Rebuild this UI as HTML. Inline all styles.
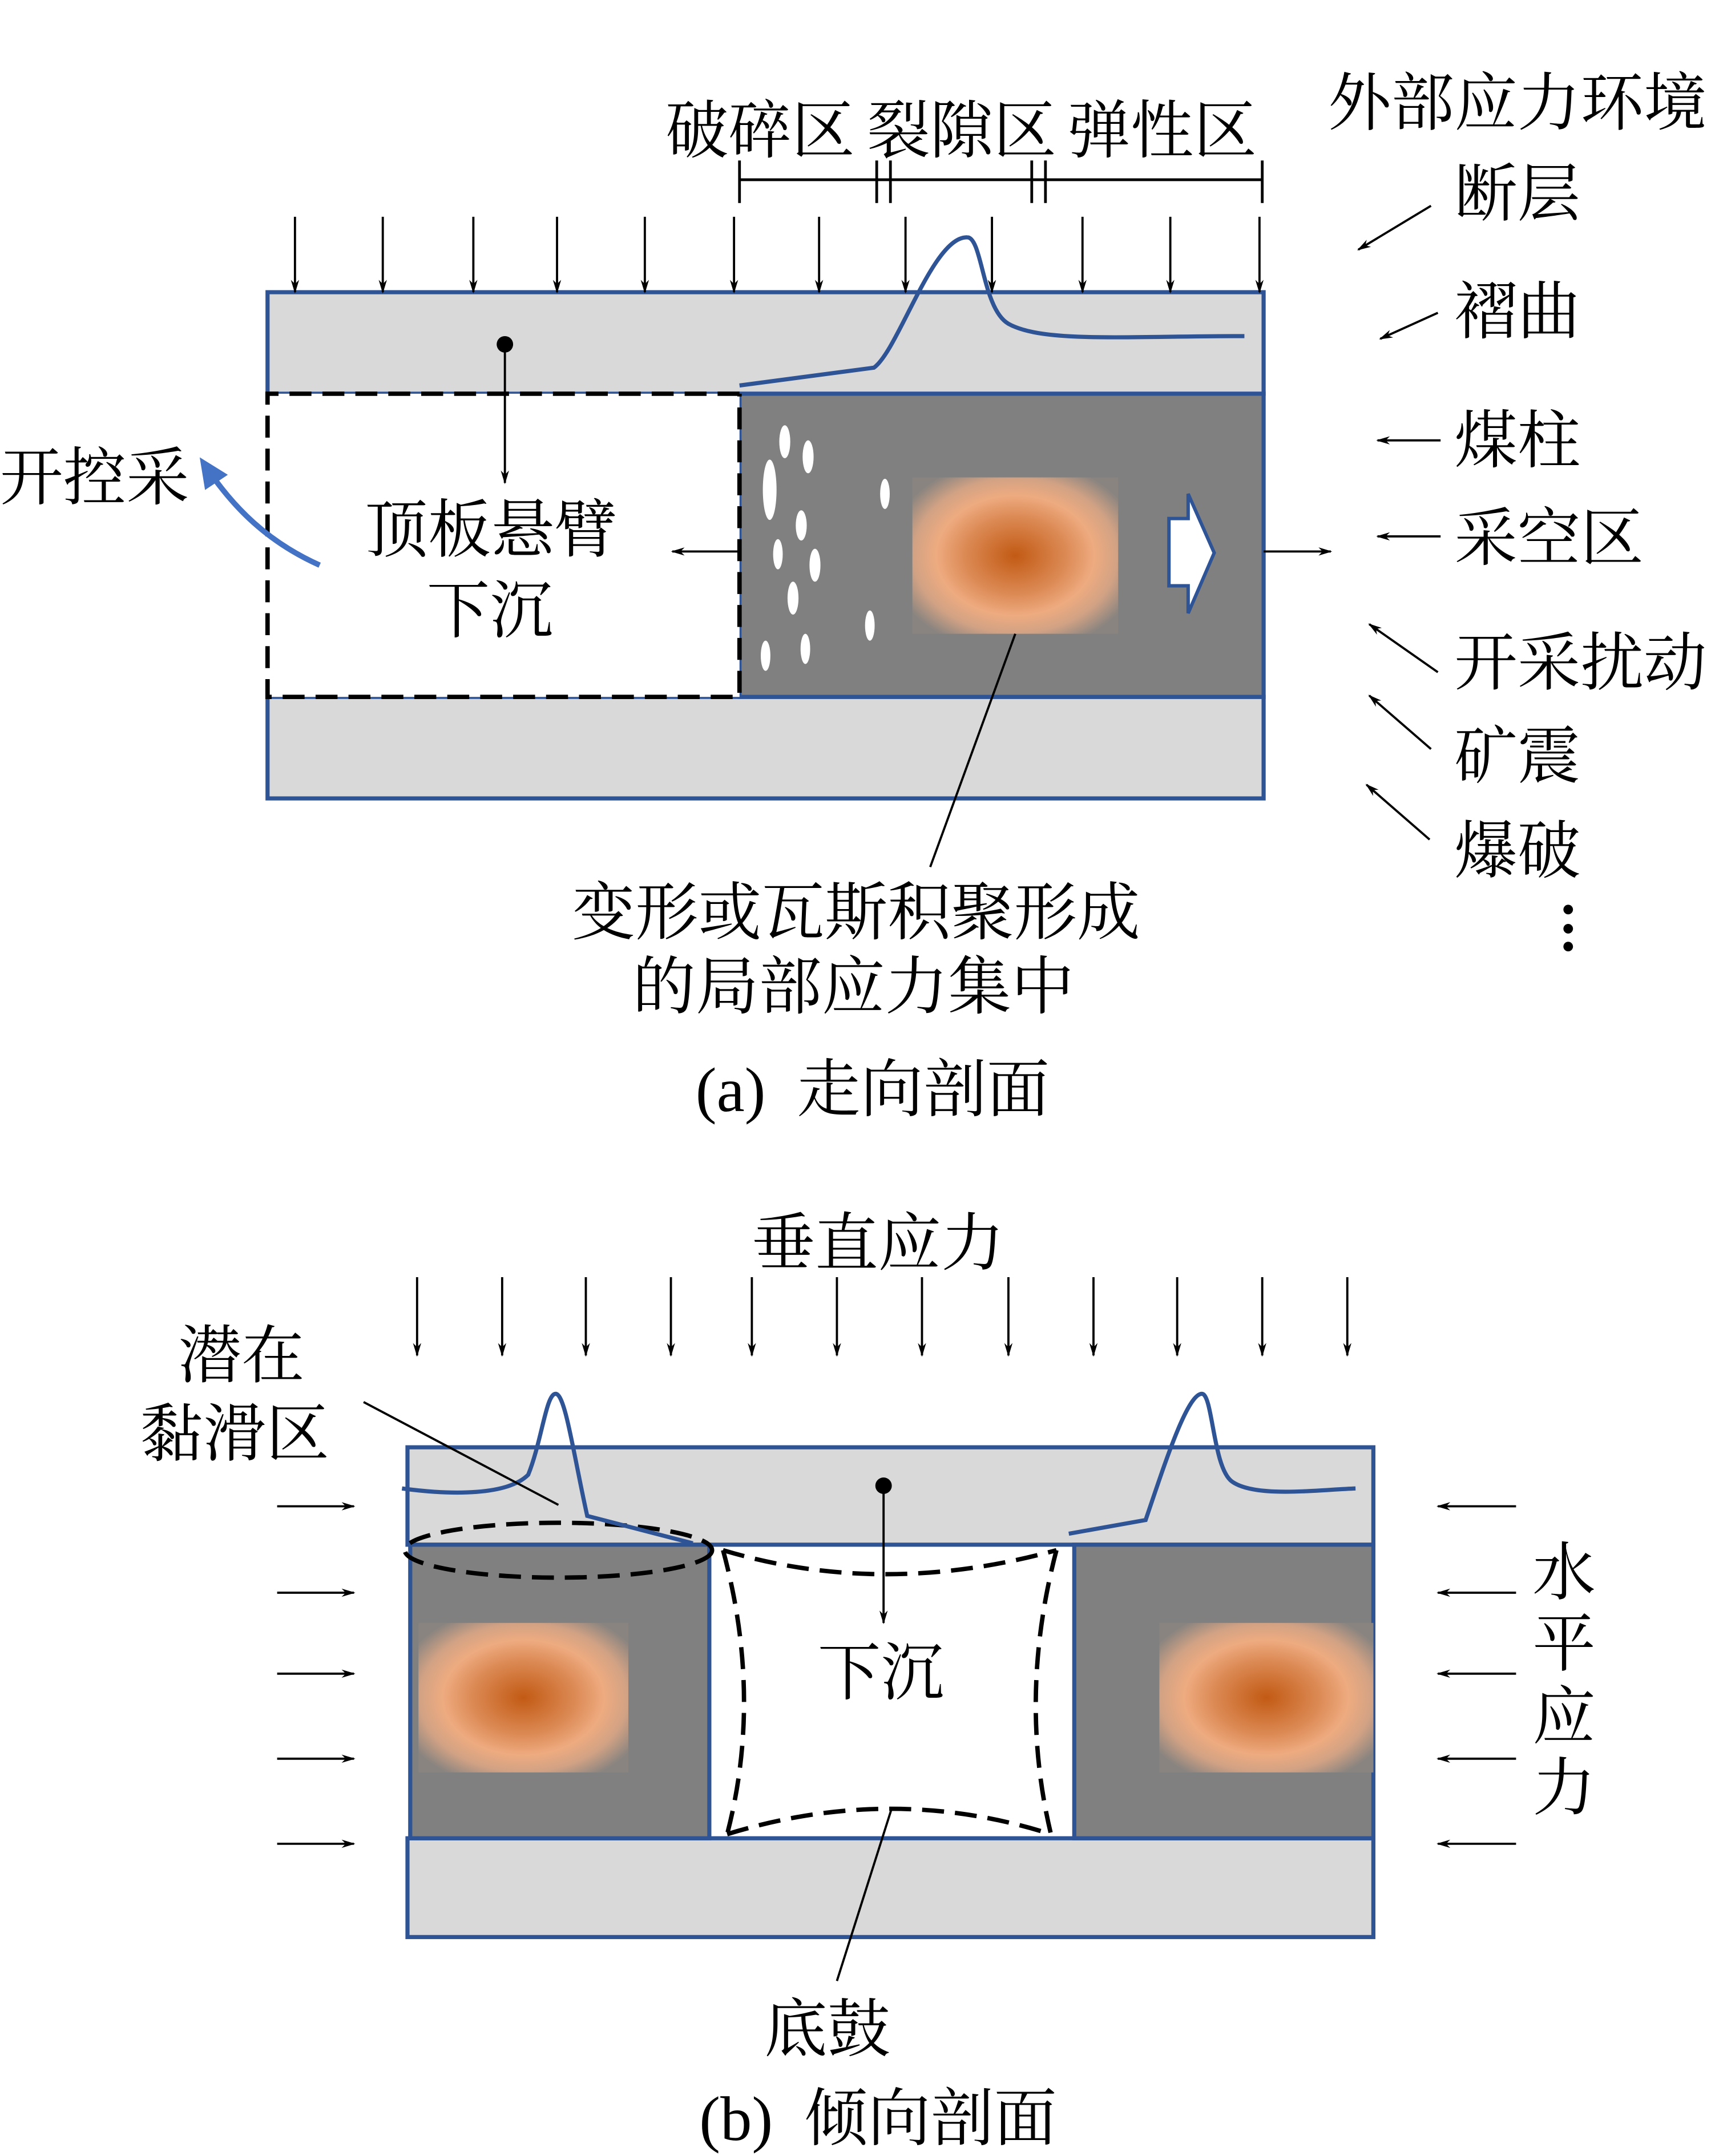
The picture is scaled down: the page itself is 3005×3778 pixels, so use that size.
<!DOCTYPE html>
<html><head><meta charset="utf-8"><style>
html,body{margin:0;padding:0;background:#fff}
svg{display:block}
text{font-family:"Liberation Serif","Noto Serif CJK SC",serif;fill:#000;font-size:46px}
</style></head><body>
<svg width="3005" height="3778" viewBox="0 0 1250 1571.6" preserveAspectRatio="none" xmlns="http://www.w3.org/2000/svg">
<defs>
<marker id="ah" markerWidth="10" markerHeight="10" refX="9" refY="5" orient="auto" markerUnits="userSpaceOnUse"><path d="M0,2 L10,5 L0,8 L3,5Z" fill="#000"/></marker>
<marker id="bh" markerWidth="24" markerHeight="24" refX="14" refY="12" orient="auto" markerUnits="userSpaceOnUse"><path d="M0,2 L22,12 L0,22 Z" fill="#4472c4"/></marker>
<radialGradient id="rg" cx="0.5" cy="0.5" r="0.62">
<stop offset="0" stop-color="#c25a14"/>
<stop offset="0.4" stop-color="#dc8a55"/>
<stop offset="0.62" stop-color="#eeab80"/>
<stop offset="0.8" stop-color="#d2a284"/>
<stop offset="1" stop-color="#8a8480"/>
</radialGradient>
</defs>

<!-- (a) -->
<rect x="195" y="213" width="726" height="74" fill="#d9d9d9" stroke="#2f5496" stroke-width="3"/>
<rect x="195" y="508" width="726" height="74" fill="#d9d9d9" stroke="#2f5496" stroke-width="3"/>
<rect x="539" y="287" width="382" height="221" fill="#808080" stroke="#2f5496" stroke-width="3"/>
<rect x="195" y="287" width="344" height="221" fill="#fff"/>
<path d="M539,287 H195 V508 H539 V287" fill="none" stroke="#000" stroke-width="3.2" stroke-dasharray="16,8"/>
<rect x="665" y="348" width="150" height="114" fill="url(#rg)"/>
<g fill="#fff">
<ellipse cx="572" cy="322" rx="4" ry="12"/><ellipse cx="589" cy="333" rx="4" ry="12"/>
<ellipse cx="561" cy="357" rx="5" ry="22"/><ellipse cx="645" cy="360" rx="3.5" ry="11"/>
<ellipse cx="584" cy="383" rx="4" ry="11"/><ellipse cx="567" cy="404" rx="3.5" ry="11"/>
<ellipse cx="594" cy="412" rx="4" ry="12"/><ellipse cx="578" cy="436" rx="4" ry="12"/>
<ellipse cx="634" cy="456" rx="3.5" ry="11"/><ellipse cx="558" cy="478" rx="3.5" ry="11"/>
<ellipse cx="587" cy="473" rx="3.5" ry="11"/>
</g>
<path d="M852,378 H866 V360 L885,403 L866,447 V427 H852 Z" fill="#fff" stroke="#2f5496" stroke-width="2.5"/>
<g stroke="#000" stroke-width="1.6" marker-end="url(#ah)">
<line x1="215" y1="158" x2="215" y2="213"/><line x1="279" y1="158" x2="279" y2="213"/>
<line x1="345" y1="158" x2="345" y2="213"/><line x1="406" y1="158" x2="406" y2="213"/>
<line x1="470" y1="158" x2="470" y2="213"/><line x1="535" y1="158" x2="535" y2="213"/>
<line x1="597" y1="158" x2="597" y2="213"/><line x1="660" y1="158" x2="660" y2="213"/>
<line x1="723" y1="158" x2="723" y2="213"/><line x1="789" y1="158" x2="789" y2="213"/>
<line x1="853" y1="158" x2="853" y2="213"/><line x1="918" y1="158" x2="918" y2="213"/>
<line x1="368" y1="251" x2="368" y2="352"/>
<line x1="539" y1="402" x2="490" y2="402"/>
<line x1="921" y1="402" x2="970" y2="402"/>
<line x1="1043" y1="150" x2="990" y2="182"/>
<line x1="1048" y1="228" x2="1006" y2="247"/>
<line x1="1050" y1="321" x2="1004" y2="321"/>
<line x1="1050" y1="391" x2="1004" y2="391"/>
<line x1="1048" y1="490" x2="998" y2="455"/>
<line x1="1043" y1="546" x2="998" y2="507"/>
<line x1="1042" y1="612" x2="996" y2="572"/>
</g>
<circle cx="368" cy="251" r="6" fill="#000"/>
<g stroke="#000" stroke-width="2" fill="none">
<line x1="539" y1="131" x2="920" y2="131"/>
<line x1="539" y1="117" x2="539" y2="148"/><line x1="639" y1="117" x2="639" y2="148"/>
<line x1="649" y1="117" x2="649" y2="148"/><line x1="752" y1="117" x2="752" y2="148"/>
<line x1="762" y1="117" x2="762" y2="148"/><line x1="920" y1="117" x2="920" y2="148"/>
<line x1="740" y1="462" x2="678" y2="632" stroke-width="1.6"/>
</g>
<path d="M539,281 L637,268 C655,255 680,172 705,173 C716,173 716,225 735,236 C760,250 820,245 907,245" fill="none" stroke="#2f5496" stroke-width="3"/>
<path d="M233,412 C195,395 170,370 150,340" fill="none" stroke="#4472c4" stroke-width="4" marker-end="url(#bh)"/>
<text x="485" y="111">破碎区</text><text x="632" y="111">裂隙区</text><text x="778" y="111">弹性区</text>
<text x="266" y="402">顶板悬臂</text><text x="311" y="461">下沉</text>
<text x="0" y="364">开控采</text>
<text x="968" y="91">外部应力环境</text>
<text x="1060" y="157">断层</text><text x="1060" y="243">褶曲</text>
<text x="1060" y="337">煤柱</text><text x="1060" y="408">采空区</text>
<text x="1060" y="499">开采扰动</text><text x="1060" y="567">矿震</text><text x="1060" y="636">爆破</text>
<g fill="#000"><circle cx="1143" cy="663" r="3.5"/><circle cx="1143" cy="677" r="3.5"/><circle cx="1143" cy="690" r="3.5"/></g>
<text x="624" y="681" text-anchor="middle">变形或瓦斯积聚形成</text>
<text x="622" y="735" text-anchor="middle">的局部应力集中</text>
<text x="636" y="810" text-anchor="middle">(a)&#160;&#160;走向剖面</text>

<!-- (b) -->
<rect x="297" y="1055" width="704" height="71" fill="#d9d9d9" stroke="#2f5496" stroke-width="3"/>
<rect x="297" y="1340" width="704" height="72" fill="#d9d9d9" stroke="#2f5496" stroke-width="3"/>
<rect x="299" y="1126" width="218" height="214" fill="#808080" stroke="#2f5496" stroke-width="3"/>
<rect x="783" y="1126" width="218" height="214" fill="#808080" stroke="#2f5496" stroke-width="3"/>
<rect x="305" y="1183" width="153" height="109" fill="url(#rg)"/>
<rect x="845" y="1183" width="156" height="109" fill="url(#rg)"/>
<g stroke="#000" stroke-width="3.2" fill="none" stroke-dasharray="16,8">
<path d="M527,1130 Q643,1165 770,1130"/>
<path d="M530,1337 Q650,1300 766,1337"/>
<path d="M527,1130 Q556,1237 530,1337"/>
<path d="M770,1130 Q742,1237 766,1337"/>
<ellipse cx="407" cy="1130" rx="112" ry="20"/>
</g>
<path d="M293,1085 C330,1090 370,1090 385,1075 C395,1050 398,1016 405,1016 C412,1016 418,1060 428,1105 L505,1125" fill="none" stroke="#2f5496" stroke-width="3"/>
<path d="M779,1118 L835,1108 C848,1070 865,1016 876,1016 C884,1016 884,1070 898,1080 C915,1092 960,1086 988,1085" fill="none" stroke="#2f5496" stroke-width="3"/>
<g stroke="#000" stroke-width="1.6" marker-end="url(#ah)">
<line x1="304" y1="931" x2="304" y2="988"/><line x1="366" y1="931" x2="366" y2="988"/>
<line x1="427" y1="931" x2="427" y2="988"/><line x1="489" y1="931" x2="489" y2="988"/>
<line x1="548" y1="931" x2="548" y2="988"/><line x1="610" y1="931" x2="610" y2="988"/>
<line x1="672" y1="931" x2="672" y2="988"/><line x1="735" y1="931" x2="735" y2="988"/>
<line x1="797" y1="931" x2="797" y2="988"/><line x1="858" y1="931" x2="858" y2="988"/>
<line x1="920" y1="931" x2="920" y2="988"/><line x1="982" y1="931" x2="982" y2="988"/>
<line x1="644" y1="1083" x2="644" y2="1183"/>
<line x1="202" y1="1098" x2="258" y2="1098"/><line x1="202" y1="1161" x2="258" y2="1161"/>
<line x1="202" y1="1220" x2="258" y2="1220"/><line x1="202" y1="1282" x2="258" y2="1282"/>
<line x1="202" y1="1344" x2="258" y2="1344"/>
<line x1="1105" y1="1098" x2="1048" y2="1098"/><line x1="1105" y1="1161" x2="1048" y2="1161"/>
<line x1="1105" y1="1220" x2="1048" y2="1220"/><line x1="1105" y1="1282" x2="1048" y2="1282"/>
<line x1="1105" y1="1344" x2="1048" y2="1344"/>
</g>
<circle cx="644" cy="1083" r="6" fill="#000"/>
<g stroke="#000" stroke-width="1.6">
<line x1="265" y1="1022" x2="407" y2="1097"/>
<line x1="650" y1="1318" x2="610" y2="1444"/>
</g>
<text x="640" y="922" text-anchor="middle">垂直应力</text>
<text x="130" y="1004">潜在</text>
<text x="102" y="1061">黏滑区</text>
<text x="642" y="1235" text-anchor="middle">下沉</text>
<text x="603" y="1495" text-anchor="middle">底鼓</text>
<text x="1140" y="1162" text-anchor="middle">水</text>
<text x="1140" y="1214" text-anchor="middle">平</text>
<text x="1140" y="1267" text-anchor="middle">应</text>
<text x="1140" y="1319" text-anchor="middle">力</text>
<text x="640" y="1560" text-anchor="middle">(b)&#160;&#160;倾向剖面</text>
</svg>
</body></html>
